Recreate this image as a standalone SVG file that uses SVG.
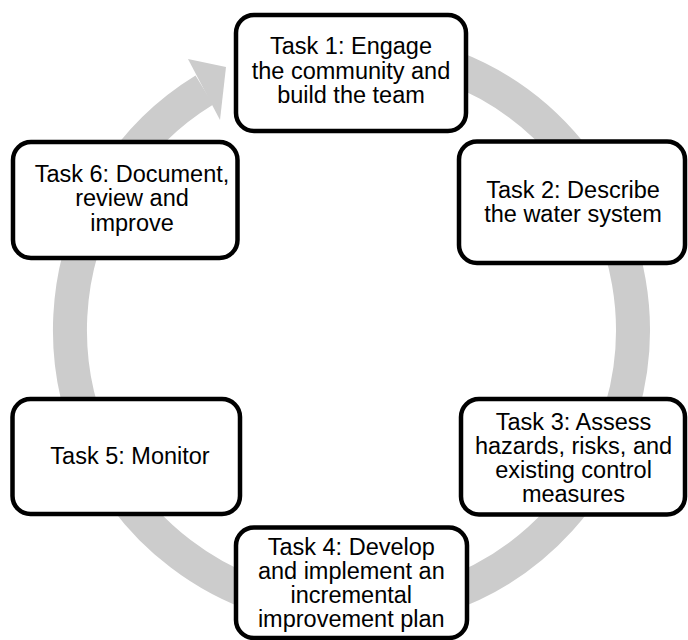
<svg xmlns="http://www.w3.org/2000/svg" width="688" height="640" viewBox="0 0 688 640">
<style>
.box{fill:#fff;stroke:#000;stroke-width:4.5}
.t{font-family:"Liberation Sans",Arial,sans-serif;font-size:23.5px;fill:#000;text-anchor:middle}
.ring{fill:none;stroke:#cccccc;stroke-width:34;stroke-linecap:butt}
</style>
<rect width="688" height="640" fill="#fff"/>
<g id="connectors">
<path class="ring" d="M 327 49.6 A 281.5 281.5 0 1 1 204.4 90"/>
<polygon points="188,59 226,67 220,120" fill="#cccccc"/>
</g>
<g id="task1">
<rect class="box" x="236" y="15" width="230" height="116" rx="18"/>
<text class="t" x="351" y="54">Task 1: Engage</text>
<text class="t" x="351" y="78.5">the community and</text>
<text class="t" x="351" y="103">build the team</text>
</g>
<g id="task2">
<rect class="box" x="459" y="141.5" width="226" height="121.5" rx="18"/>
<text class="t" x="573" y="198.3">Task 2: Describe</text>
<text class="t" x="573" y="222">the water system</text>
</g>
<g id="task3">
<rect class="box" x="461" y="399" width="224" height="115.5" rx="18"/>
<text class="t" x="573.5" y="430">Task 3: Assess</text>
<text class="t" x="573.5" y="454">hazards, risks, and</text>
<text class="t" x="573.5" y="478">existing control</text>
<text class="t" x="573.5" y="502">measures</text>
</g>
<g id="task4">
<rect class="box" x="236" y="527.5" width="231" height="110.5" rx="18"/>
<text class="t" x="351.3" y="555">Task 4: Develop</text>
<text class="t" x="351.3" y="579">and implement an</text>
<text class="t" x="351.3" y="603">incremental</text>
<text class="t" x="351.3" y="627">improvement plan</text>
</g>
<g id="task5">
<rect class="box" x="12.5" y="399" width="227.5" height="115" rx="18"/>
<text class="t" x="130" y="464">Task 5: Monitor</text>
</g>
<g id="task6">
<rect class="box" x="13" y="142" width="224.5" height="116" rx="18"/>
<text class="t" x="132" y="181.7">Task 6: Document,</text>
<text class="t" x="132" y="206.2">review and</text>
<text class="t" x="132" y="230.7">improve</text>
</g>
</svg>
